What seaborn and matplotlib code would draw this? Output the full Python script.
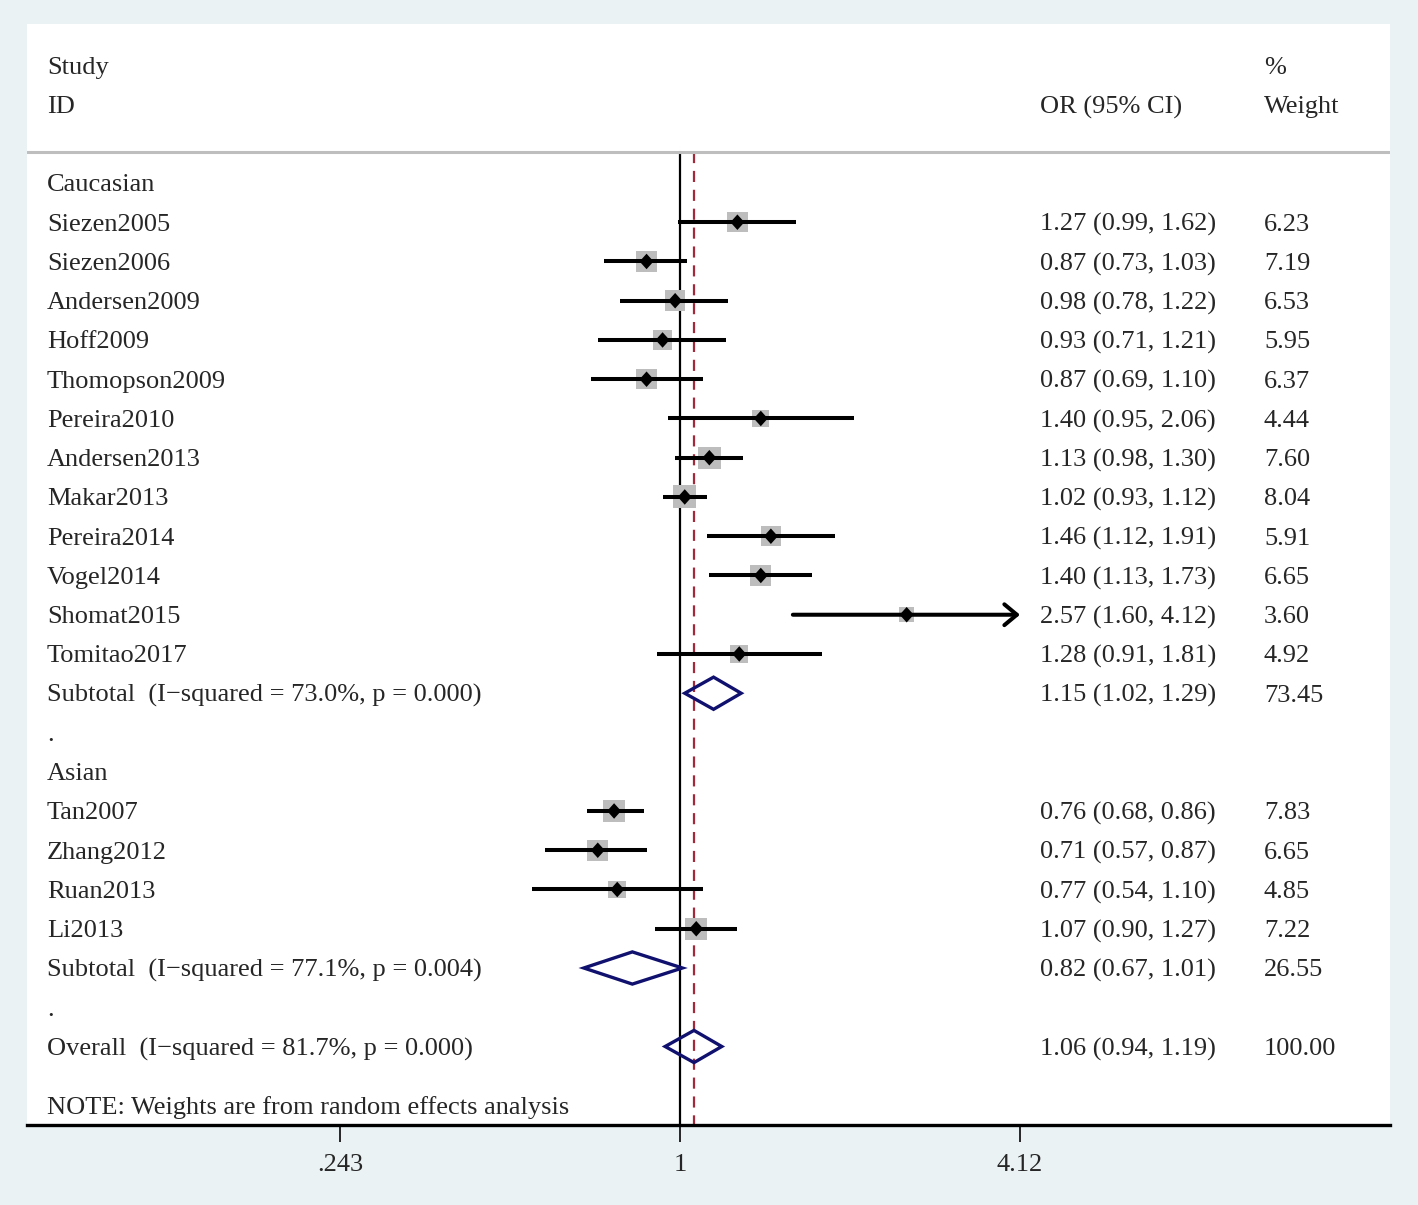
import numpy as np
import pandas as pd
import matplotlib
matplotlib.use("Agg")
import matplotlib.pyplot as plt
from matplotlib.transforms import blended_transform_factory
from matplotlib.patches import Polygon
import seaborn as sns

# ---------------- data ----------------
cau_studies = ["Siezen2005", "Siezen2006", "Andersen2009", "Hoff2009", "Thomopson2009",
               "Pereira2010", "Andersen2013", "Makar2013", "Pereira2014", "Vogel2014",
               "Shomat2015", "Tomitao2017"]
cau_or = [1.27, 0.87, 0.98, 0.93, 0.87, 1.40, 1.13, 1.02, 1.46, 1.40, 2.57, 1.28]
cau_lo = [0.99, 0.73, 0.78, 0.71, 0.69, 0.95, 0.98, 0.93, 1.12, 1.13, 1.60, 0.91]
cau_hi = [1.62, 1.03, 1.22, 1.21, 1.10, 2.06, 1.30, 1.12, 1.91, 1.73, 4.12, 1.81]
cau_w = [6.23, 7.19, 6.53, 5.95, 6.37, 4.44, 7.60, 8.04, 5.91, 6.65, 3.60, 4.92]

asi_studies = ["Tan2007", "Zhang2012", "Ruan2013", "Li2013"]
asi_or = [0.76, 0.71, 0.77, 1.07]
asi_lo = [0.68, 0.57, 0.54, 0.90]
asi_hi = [0.86, 0.87, 1.10, 1.27]
asi_w = [7.83, 6.65, 4.85, 7.22]

sub_labels = ["Subtotal  (I\u2212squared = 73.0%, p = 0.000)",
              "Subtotal  (I\u2212squared = 77.1%, p = 0.004)"]
sub_or = [1.15, 0.82]
sub_lo = [1.02, 0.67]
sub_hi = [1.29, 1.01]
sub_w = [73.45, 26.55]

overall_label = "Overall  (I\u2212squared = 81.7%, p = 0.000)"
overall_or = 1.06
overall_lo = 0.94
overall_hi = 1.19
overall_w = 100.00

tick_values = [0.243, 1, 4.12]
tick_labels = [".243", "1", "4.12"]
note_text = "NOTE: Weights are from random effects analysis"

# ---------------- style ----------------
BG = "#EAF2F3"
BOX = "#BDBDBD"
NAVY = "#10106E"
RED = "#A3293A"
FS = 19

sns.set_style("white")
plt.rcParams['font.family'] = ['Liberation Serif', 'DejaVu Serif']

W, H = 1418, 1205
fig = plt.figure(figsize=(W / 100, H / 100), dpi=100, facecolor=BG)
left_px, right_px, top_px, bot_px = 27, 1390, 24, 1125
ax = fig.add_axes([left_px / W, 1 - bot_px / H, (right_px - left_px) / W, (bot_px - top_px) / H])
ax.set_facecolor("white")
ax.set_xscale("log")
# place x=1 at 48% of width, symmetric ticks .243 / 4.12 at +-25% of width
f_one = (680 - left_px) / (right_px - left_px)
f_tick = (1020 - 680) / (right_px - left_px)
lt = np.log(tick_values[2])
per = lt / f_tick
ax.set_xlim(np.exp(-f_one * per), np.exp((1 - f_one) * per))
ax.set_ylim(24, -4.05)

# ---------------- assemble rows ----------------
study_rows = []
r = 0
label_rows = [("Caucasian", r)]
r += 1
for i, s in enumerate(cau_studies):
    study_rows.append(dict(study=s, OR=cau_or[i], lo=cau_lo[i], hi=cau_hi[i], w=cau_w[i], row=r))
    r += 1
sub_rows = [r]
r += 1
label_rows.append((".", r)); r += 1
label_rows.append(("Asian", r)); r += 1
for i, s in enumerate(asi_studies):
    study_rows.append(dict(study=s, OR=asi_or[i], lo=asi_lo[i], hi=asi_hi[i], w=asi_w[i], row=r))
    r += 1
sub_rows.append(r)
r += 1
label_rows.append((".", r)); r += 1
overall_row = r
df = pd.DataFrame(study_rows)

xmax = tick_values[2]
header_y = -0.79

# reference lines
ax.plot([1, 1], [header_y, 24], color="black", lw=1.6, zorder=2)
ax.plot([overall_or, overall_or], [header_y, 24], color=RED, lw=1.6,
        dashes=(5, 3.5), zorder=2)
ax.axhline(header_y, color="#BEBEBE", lw=2.2, zorder=2)

# boxes
sns.scatterplot(data=df, x="OR", y="row", marker="s", s=df["w"] * 34,
                color=BOX, edgecolor="none", linewidth=0, ax=ax, zorder=3, legend=False)

# CI lines
LW_CI = 2.9
for _, d in df.iterrows():
    if d["hi"] >= xmax:
        ax.annotate("", xy=(xmax, d["row"]), xytext=(d["lo"], d["row"]),
                    arrowprops=dict(arrowstyle="->,head_length=0.9,head_width=0.75",
                                    lw=LW_CI, color="black", shrinkA=0, shrinkB=0,
                                    mutation_scale=10), zorder=4)
    else:
        ax.plot([d["lo"], d["hi"]], [d["row"], d["row"]], color="black", lw=LW_CI,
                solid_capstyle="butt", zorder=4)

# point estimates (slightly tall diamond)
diamond = [(0, 1), (0.9, 0), (0, -1), (-0.9, 0), (0, 1)]
sns.scatterplot(data=df, x="OR", y="row", marker=diamond, s=125, color="black",
                edgecolor="none", linewidth=0, ax=ax, zorder=5, legend=False)

# pooled diamonds
dh = 0.41
for est, lo, hi, row in list(zip(sub_or, sub_lo, sub_hi, sub_rows)) + \
        [(overall_or, overall_lo, overall_hi, overall_row)]:
    poly = Polygon([(lo, row), (est, row - dh), (hi, row), (est, row + dh)],
                   closed=True, fill=False, edgecolor=NAVY, lw=2.4, zorder=5)
    ax.add_patch(poly)

# ---------------- text ----------------
tr = blended_transform_factory(ax.transAxes, ax.transData)
x_lab = (47 - left_px) / (right_px - left_px)
x_or = (1040 - left_px) / (right_px - left_px)
x_w = (1264 - left_px) / (right_px - left_px)

def txt(x, y, s):
    ax.text(x, y, s, transform=tr, fontsize=FS, ha="left", va="center_baseline")

txt(x_lab, -3, "Study")
txt(x_lab, -2, "ID")
txt(x_or, -2, "OR (95% CI)")
txt(x_w, -3, "%")
txt(x_w, -2, "Weight")

for s, rr in label_rows:
    txt(x_lab, rr, s)
for _, d in df.iterrows():
    txt(x_lab, d["row"], d["study"])
    txt(x_or, d["row"], f"{d['OR']:.2f} ({d['lo']:.2f}, {d['hi']:.2f})")
    txt(x_w, d["row"], f"{d['w']:.2f}")
for lab, est, lo, hi, w, rr in zip(sub_labels, sub_or, sub_lo, sub_hi, sub_w, sub_rows):
    txt(x_lab, rr, lab)
    txt(x_or, rr, f"{est:.2f} ({lo:.2f}, {hi:.2f})")
    txt(x_w, rr, f"{w:.2f}")
txt(x_lab, overall_row, overall_label)
txt(x_or, overall_row, f"{overall_or:.2f} ({overall_lo:.2f}, {overall_hi:.2f})")
txt(x_w, overall_row, f"{overall_w:.2f}")
txt(x_lab, overall_row + 1.5, note_text)

# ---------------- axis ----------------
for sp in ["top", "left", "right"]:
    ax.spines[sp].set_visible(False)
ax.spines["bottom"].set_linewidth(2.4)
ax.spines["bottom"].set_color("black")
ax.set_yticks([])
ax.set_xticks(tick_values)
ax.set_xticklabels(tick_labels, fontsize=FS)
ax.minorticks_off()
ax.tick_params(axis="x", direction="out", length=12, width=1.4, pad=9, bottom=True)
ax.set_xlabel("")
ax.set_ylabel("")

fig.savefig("out.png", dpi=100, facecolor=BG)
